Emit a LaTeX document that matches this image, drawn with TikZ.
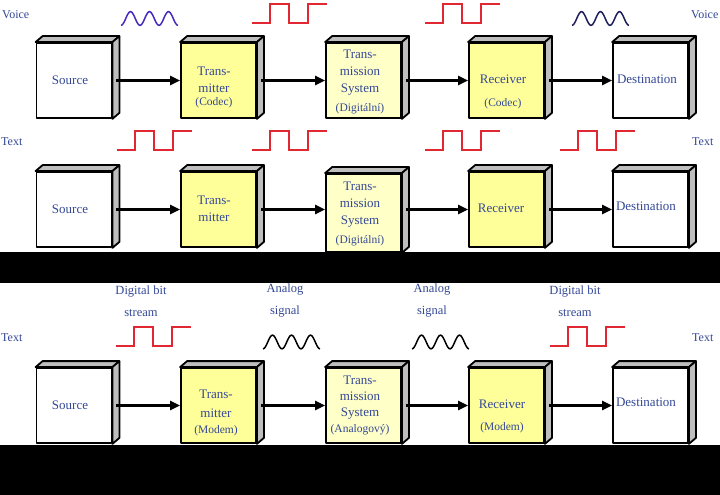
\documentclass[tikz,border=0pt]{standalone}
\usepackage{fontspec}
\setmainfont{Liberation Serif}
\usetikzlibrary{calc,arrows.meta}
\definecolor{txtblue}{RGB}{52,72,150}
\definecolor{boxyellow}{RGB}{255,255,153}
\definecolor{tsyellow}{RGB}{255,255,200}
\definecolor{facegrey}{RGB}{190,190,190}
\definecolor{sqred}{RGB}{225,40,50}
\definecolor{voiceA}{RGB}{70,40,190}
\definecolor{voiceB}{RGB}{30,30,90}
\newcommand{\smallfnt}{\fontsize{11.5bp}{13bp}\selectfont}
\newcommand{\cubefaces}[1]{%
  \draw[face] (#1.north west) -- ($(#1.north west)+(7,-6)$) -- ($(#1.north east)+(7,-6)$) -- (#1.north east) -- cycle;
  \draw[face] (#1.north east) -- ($(#1.north east)+(7,-6)$) -- ($(#1.south east)+(7,-6)$) -- (#1.south east) -- cycle;}
\newcommand{\sqwave}[2]{%
  \draw[sq] (#1,#2) -- ++(18,0) -- ++(0,-19) -- ++(19,0) -- ++(0,19) -- ++(19,0) -- ++(0,-19) -- ++(19,0);}
\newcommand{\sinewave}[3]{%
  \draw[line width=1.5bp,#3] plot[domain=0:3,samples=120,smooth] ({#1+19*\x},{#2+6.8*cos(360*\x)});}
\begin{document}
\begin{tikzpicture}[x=1bp,y=-1bp,
  box/.style={draw=black, line width=1.8bp, minimum width=75bp, minimum height=75bp, inner sep=0, line join=round},
  face/.style={draw=black, fill=facegrey, line width=1.8bp, line join=round},
  lbl/.style={text=txtblue, align=center, inner sep=0, font=\fontsize{13bp}{17bp}\selectfont},
  side/.style={text=txtblue, inner sep=0, anchor=west, font=\fontsize{12bp}{14bp}\selectfont},
  sig/.style={text=txtblue, align=center, inner sep=0, font=\fontsize{12.5bp}{22bp}\selectfont},
  sq/.style={draw=sqred, line width=1.2bp},
  arr/.style={draw=black, line width=2.3bp, -{Triangle[length=10bp,width=9bp]}}]
\useasboundingbox (0,0) rectangle (720,495);
\fill[white] (0,0) rectangle (720,495);

% ---------- Row 1 ----------
\node[box, fill=white] (src1) at (74,80.5) {};
\node[box, fill=boxyellow] (tx1) at (218.5,80.5) {};
\node[box, fill=tsyellow] (ts1) at (363.5,80.5) {};
\node[box, fill=boxyellow] (rx1) at (506.5,80.5) {};
\node[box, fill=white] (dst1) at (650.5,80.5) {};
\foreach \n in {src1,tx1,ts1,rx1,dst1} {\cubefaces{\n}}
\draw[arr] (src1.east) ++(4bp,0) -- (tx1.west);
\draw[arr] (tx1.east) ++(4bp,0) -- (ts1.west);
\draw[arr] (ts1.east) ++(4bp,0) -- (rx1.west);
\draw[arr] (rx1.east) ++(4bp,0) -- (dst1.west);
\node[lbl] (src1l) at (70,80) {Source};
\node[lbl] (tx1l) at (214,87.5) {Trans-\\mitter\\[-4bp]{\smallfnt (Codec)}};
\node[lbl] (ts1l) at (360,82) {Trans-\\mission\\System\\[2bp]{\smallfnt (Digitální)}};
\node[lbl] (rx1l) at (503,91.5) {Receiver\\[6bp]{\smallfnt (Codec)}};
\node[lbl] (dst1l) at (647,79) {Destination};
\node[side] (voiceL) at (2,15) {Voice};
\node[side] (voiceR) at (691,15) {Voice};
\sinewave{121}{18.5}{voiceA}
\sinewave{572}{18.5}{voiceB}
\sqwave{252}{23}
\sqwave{425}{23}

% ---------- Row 2 ----------
\node[box, fill=white] (src2) at (74,209.5) {};
\node[box, fill=boxyellow] (tx2) at (218.5,209.5) {};
\node[box, fill=tsyellow, minimum height=78bp] (ts2) at (363.5,213) {};
\node[box, fill=boxyellow] (rx2) at (506.5,209.5) {};
\node[box, fill=white] (dst2) at (650.5,209.5) {};
\foreach \n in {src2,tx2,ts2,rx2,dst2} {\cubefaces{\n}}
\draw[arr] (src2.east) ++(4bp,0) -- (tx2.west);
\draw[arr] (tx2.east) ++(4bp,0) -- (tx2.east -| ts2.west);
\draw[arr] (rx2.west -| ts2.east) ++(4bp,0) -- (rx2.west);
\draw[arr] (rx2.east) ++(4bp,0) -- (dst2.west);
\node[lbl] (src2l) at (70,209) {Source};
\node[lbl] (tx2l) at (214,209) {Trans-\\mitter};
\node[lbl] (ts2l) at (360,213.5) {Trans-\\mission\\System\\[2bp]{\smallfnt (Digitální)}};
\node[lbl] (rx2l) at (501,208) {Receiver};
\node[lbl] (dst2l) at (646,206) {Destination};
\node[side] (textL2) at (1,142) {Text};
\node[side] (textR2) at (692,142) {Text};
\sqwave{117}{150}
\sqwave{252}{150}
\sqwave{425}{150}
\sqwave{560}{150}

% ---------- Row 3 ----------
\node[box, fill=white] (src3) at (74,405.5) {};
\node[box, fill=boxyellow] (tx3) at (218.5,405.5) {};
\node[box, fill=tsyellow] (ts3) at (363.5,405.5) {};
\node[box, fill=boxyellow] (rx3) at (506.5,405.5) {};
\node[box, fill=white] (dst3) at (650.5,405.5) {};
\foreach \n in {src3,tx3,ts3,rx3,dst3} {\cubefaces{\n}}
\draw[arr] (src3.east) ++(4bp,0) -- (tx3.west);
\draw[arr] (tx3.east) ++(4bp,0) -- (ts3.west);
\draw[arr] (ts3.east) ++(4bp,0) -- (rx3.west);
\draw[arr] (rx3.east) ++(4bp,0) -- (dst3.west);
\node[lbl] (src3l) at (70,405) {Source};
\node[lbl] (tx3l) at (216,412.5) {Trans-\\[2bp]mitter\\[-1bp]{\smallfnt (Modem)}};
\node[lbl] (ts3l) at (360,405.5) {Trans-\\[-1bp]mission\\[-1bp]System\\[-1bp]{\smallfnt (Analogový)}};
\node[lbl] (rx3l) at (502,416) {Receiver\\[5bp]{\smallfnt (Modem)}};
\node[lbl] (dst3l) at (646,402) {Destination};
\node[side] (textL3) at (1,338) {Text};
\node[side] (textR3) at (692,338) {Text};
\node[sig] (dbs1) at (141,301) {Digital bit\\stream};
\node[sig] (an1) at (285,301) {Analog\\signal};
\node[sig] (an2) at (432,301) {Analog\\signal};
\node[sig] (dbs2) at (575,301) {Digital bit\\stream};
\sqwave{116}{346}
\sqwave{550}{346}
\sinewave{263}{342}{black}
\sinewave{412}{342}{black}

% ---------- black bands ----------
\fill[black] (0,252) rectangle (720,283);
\fill[black] (0,445) rectangle (720,495);
\end{tikzpicture}
\end{document}
